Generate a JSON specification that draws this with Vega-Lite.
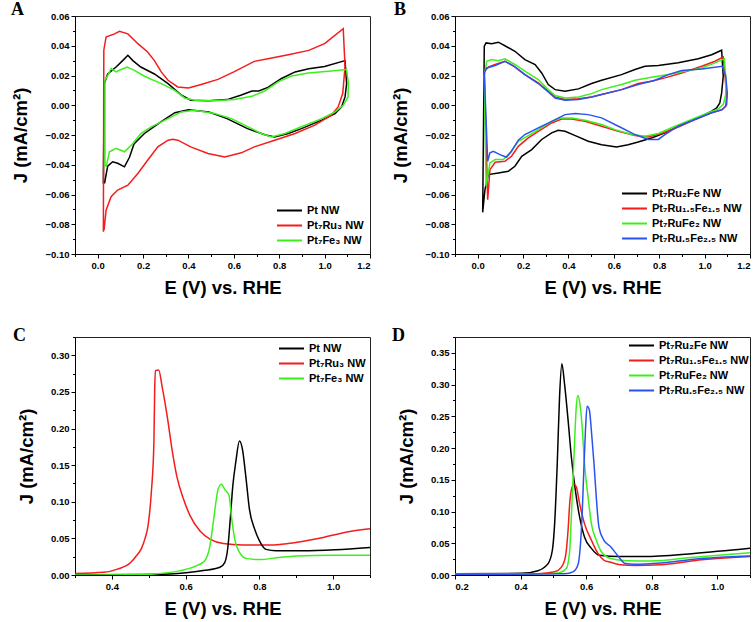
{
"$schema":"https://vega.github.io/schema/vega-lite/v6.json",
"background":"white",
"padding":{"left":10,"top":0,"right":4,"bottom":2},
"bounds":"flush",
"columns":2,
"spacing":{"column":85,"row":83},
"resolve":{"scale":{"color":"independent"},"legend":{"color":"independent"}},
"config":{
"font":"Liberation Sans",
"view":{"stroke":"#222","strokeWidth":1},
"axis":{"domainColor":"#000","tickColor":"#000","labelColor":"#000","titleColor":"#000","labelFont":"Liberation Sans","labelFontWeight":"bold","labelFontSize":9.5,"titleFont":"Liberation Sans","titleFontWeight":"bold","titleFontSize":18.5,"grid":false,"labelPadding":2},
"axisX":{"titlePadding":9},
"axisY":{"titlePadding":14},
"legend":{"labelFont":"Liberation Sans","labelFontWeight":"bold","labelFontSize":11,"labelColor":"#000","symbolType":"stroke","symbolSize":625,"symbolStrokeWidth":2,"rowPadding":0,"clipHeight":15,"labelOffset":4,"padding":0,"labelLimit":200},
"title":{"font":"Liberation Serif","fontWeight":"bold","fontSize":18,"anchor":"start","frame":"group","color":"#000","offset":-8}
},
"datasets":{
"A":[
{"s":"Pt NW","i":1,"x":0.025,"y":-0.0526},{"s":"Pt NW","i":2,"x":0.029,"y":0.0145},{"s":"Pt NW","i":3,"x":0.044,"y":0.021},{"s":"Pt NW","i":4,"x":0.081,"y":0.0257},{"s":"Pt NW","i":5,"x":0.11,"y":0.03},{"s":"Pt NW","i":6,"x":0.133,"y":0.0336},{"s":"Pt NW","i":7,"x":0.155,"y":0.03},{"s":"Pt NW","i":8,"x":0.19,"y":0.0257},{"s":"Pt NW","i":9,"x":0.25,"y":0.021},{"s":"Pt NW","i":10,"x":0.31,"y":0.0145},{"s":"Pt NW","i":11,"x":0.37,"y":0.0067},{"s":"Pt NW","i":12,"x":0.41,"y":0.0034},{"s":"Pt NW","i":13,"x":0.49,"y":0.003},{"s":"Pt NW","i":14,"x":0.57,"y":0.0038},{"s":"Pt NW","i":15,"x":0.63,"y":0.0067},{"s":"Pt NW","i":16,"x":0.68,"y":0.0096},{"s":"Pt NW","i":17,"x":0.71,"y":0.0096},{"s":"Pt NW","i":18,"x":0.75,"y":0.012},{"s":"Pt NW","i":19,"x":0.81,"y":0.018},{"s":"Pt NW","i":20,"x":0.87,"y":0.0224},{"s":"Pt NW","i":21,"x":0.93,"y":0.0246},{"s":"Pt NW","i":22,"x":1.0,"y":0.026},{"s":"Pt NW","i":23,"x":1.09,"y":0.03},{"s":"Pt NW","i":24,"x":1.097,"y":0.0145},{"s":"Pt NW","i":25,"x":1.09,"y":0.0056},{"s":"Pt NW","i":26,"x":1.075,"y":-0.001},{"s":"Pt NW","i":27,"x":1.046,"y":-0.0056},{"s":"Pt NW","i":28,"x":0.987,"y":-0.01},{"s":"Pt NW","i":29,"x":0.898,"y":-0.0157},{"s":"Pt NW","i":30,"x":0.84,"y":-0.019},{"s":"Pt NW","i":31,"x":0.78,"y":-0.0213},{"s":"Pt NW","i":32,"x":0.74,"y":-0.02},{"s":"Pt NW","i":33,"x":0.66,"y":-0.0157},{"s":"Pt NW","i":34,"x":0.57,"y":-0.009},{"s":"Pt NW","i":35,"x":0.49,"y":-0.0045},{"s":"Pt NW","i":36,"x":0.4,"y":-0.003},{"s":"Pt NW","i":37,"x":0.34,"y":-0.005},{"s":"Pt NW","i":38,"x":0.28,"y":-0.011},{"s":"Pt NW","i":39,"x":0.206,"y":-0.019},{"s":"Pt NW","i":40,"x":0.16,"y":-0.026},{"s":"Pt NW","i":41,"x":0.14,"y":-0.035},{"s":"Pt NW","i":42,"x":0.118,"y":-0.0414},{"s":"Pt NW","i":43,"x":0.088,"y":-0.039},{"s":"Pt NW","i":44,"x":0.066,"y":-0.038},{"s":"Pt NW","i":45,"x":0.044,"y":-0.041},{"s":"Pt NW","i":46,"x":0.03,"y":-0.0526},
{"s":"Pt₇Ru₃ NW","i":1,"x":0.025,"y":-0.085},{"s":"Pt₇Ru₃ NW","i":2,"x":0.027,"y":0.037},{"s":"Pt₇Ru₃ NW","i":3,"x":0.037,"y":0.0459},{"s":"Pt₇Ru₃ NW","i":4,"x":0.074,"y":0.048},{"s":"Pt₇Ru₃ NW","i":5,"x":0.096,"y":0.0497},{"s":"Pt₇Ru₃ NW","i":6,"x":0.133,"y":0.048},{"s":"Pt₇Ru₃ NW","i":7,"x":0.177,"y":0.0414},{"s":"Pt₇Ru₃ NW","i":8,"x":0.22,"y":0.0358},{"s":"Pt₇Ru₃ NW","i":9,"x":0.25,"y":0.03},{"s":"Pt₇Ru₃ NW","i":10,"x":0.28,"y":0.0224},{"s":"Pt₇Ru₃ NW","i":11,"x":0.31,"y":0.0168},{"s":"Pt₇Ru₃ NW","i":12,"x":0.353,"y":0.0123},{"s":"Pt₇Ru₃ NW","i":13,"x":0.4,"y":0.0116},{"s":"Pt₇Ru₃ NW","i":14,"x":0.456,"y":0.014},{"s":"Pt₇Ru₃ NW","i":15,"x":0.53,"y":0.0174},{"s":"Pt₇Ru₃ NW","i":16,"x":0.6,"y":0.0224},{"s":"Pt₇Ru₃ NW","i":17,"x":0.69,"y":0.0295},{"s":"Pt₇Ru₃ NW","i":18,"x":0.75,"y":0.0313},{"s":"Pt₇Ru₃ NW","i":19,"x":0.84,"y":0.034},{"s":"Pt₇Ru₃ NW","i":20,"x":0.93,"y":0.0369},{"s":"Pt₇Ru₃ NW","i":21,"x":1.0,"y":0.0414},{"s":"Pt₇Ru₃ NW","i":22,"x":1.082,"y":0.0515},{"s":"Pt₇Ru₃ NW","i":23,"x":1.09,"y":0.026},{"s":"Pt₇Ru₃ NW","i":24,"x":1.08,"y":0.008},{"s":"Pt₇Ru₃ NW","i":25,"x":1.06,"y":-0.001},{"s":"Pt₇Ru₃ NW","i":26,"x":1.03,"y":-0.0067},{"s":"Pt₇Ru₃ NW","i":27,"x":0.957,"y":-0.0134},{"s":"Pt₇Ru₃ NW","i":28,"x":0.87,"y":-0.019},{"s":"Pt₇Ru₃ NW","i":29,"x":0.78,"y":-0.0235},{"s":"Pt₇Ru₃ NW","i":30,"x":0.69,"y":-0.028},{"s":"Pt₇Ru₃ NW","i":31,"x":0.633,"y":-0.032},{"s":"Pt₇Ru₃ NW","i":32,"x":0.56,"y":-0.0347},{"s":"Pt₇Ru₃ NW","i":33,"x":0.486,"y":-0.0324},{"s":"Pt₇Ru₃ NW","i":34,"x":0.41,"y":-0.028},{"s":"Pt₇Ru₃ NW","i":35,"x":0.353,"y":-0.0235},{"s":"Pt₇Ru₃ NW","i":36,"x":0.33,"y":-0.0228},{"s":"Pt₇Ru₃ NW","i":37,"x":0.31,"y":-0.0235},{"s":"Pt₇Ru₃ NW","i":38,"x":0.265,"y":-0.028},{"s":"Pt₇Ru₃ NW","i":39,"x":0.22,"y":-0.037},{"s":"Pt₇Ru₃ NW","i":40,"x":0.177,"y":-0.0459},{"s":"Pt₇Ru₃ NW","i":41,"x":0.133,"y":-0.0537},{"s":"Pt₇Ru₃ NW","i":42,"x":0.088,"y":-0.057},{"s":"Pt₇Ru₃ NW","i":43,"x":0.059,"y":-0.0615},{"s":"Pt₇Ru₃ NW","i":44,"x":0.037,"y":-0.0705},{"s":"Pt₇Ru₃ NW","i":45,"x":0.028,"y":-0.084},
{"s":"Pt₇Fe₃ NW","i":1,"x":0.032,"y":-0.041},{"s":"Pt₇Fe₃ NW","i":2,"x":0.032,"y":0.0168},{"s":"Pt₇Fe₃ NW","i":3,"x":0.044,"y":0.02},{"s":"Pt₇Fe₃ NW","i":4,"x":0.059,"y":0.0246},{"s":"Pt₇Fe₃ NW","i":5,"x":0.081,"y":0.0224},{"s":"Pt₇Fe₃ NW","i":6,"x":0.103,"y":0.024},{"s":"Pt₇Fe₃ NW","i":7,"x":0.13,"y":0.0257},{"s":"Pt₇Fe₃ NW","i":8,"x":0.162,"y":0.0235},{"s":"Pt₇Fe₃ NW","i":9,"x":0.206,"y":0.0195},{"s":"Pt₇Fe₃ NW","i":10,"x":0.28,"y":0.0145},{"s":"Pt₇Fe₃ NW","i":11,"x":0.34,"y":0.01},{"s":"Pt₇Fe₃ NW","i":12,"x":0.383,"y":0.0049},{"s":"Pt₇Fe₃ NW","i":13,"x":0.427,"y":0.0034},{"s":"Pt₇Fe₃ NW","i":14,"x":0.515,"y":0.003},{"s":"Pt₇Fe₃ NW","i":15,"x":0.6,"y":0.0038},{"s":"Pt₇Fe₃ NW","i":16,"x":0.68,"y":0.006},{"s":"Pt₇Fe₃ NW","i":17,"x":0.736,"y":0.0096},{"s":"Pt₇Fe₃ NW","i":18,"x":0.795,"y":0.0157},{"s":"Pt₇Fe₃ NW","i":19,"x":0.854,"y":0.0197},{"s":"Pt₇Fe₃ NW","i":20,"x":0.928,"y":0.0217},{"s":"Pt₇Fe₃ NW","i":21,"x":1.016,"y":0.0228},{"s":"Pt₇Fe₃ NW","i":22,"x":1.097,"y":0.024},{"s":"Pt₇Fe₃ NW","i":23,"x":1.105,"y":0.0145},{"s":"Pt₇Fe₃ NW","i":24,"x":1.103,"y":0.0056},{"s":"Pt₇Fe₃ NW","i":25,"x":1.082,"y":0.0},{"s":"Pt₇Fe₃ NW","i":26,"x":1.046,"y":-0.0045},{"s":"Pt₇Fe₃ NW","i":27,"x":0.987,"y":-0.009},{"s":"Pt₇Fe₃ NW","i":28,"x":0.898,"y":-0.0145},{"s":"Pt₇Fe₃ NW","i":29,"x":0.825,"y":-0.019},{"s":"Pt₇Fe₃ NW","i":30,"x":0.766,"y":-0.0213},{"s":"Pt₇Fe₃ NW","i":31,"x":0.72,"y":-0.019},{"s":"Pt₇Fe₃ NW","i":32,"x":0.663,"y":-0.0145},{"s":"Pt₇Fe₃ NW","i":33,"x":0.59,"y":-0.009},{"s":"Pt₇Fe₃ NW","i":34,"x":0.515,"y":-0.0056},{"s":"Pt₇Fe₃ NW","i":35,"x":0.427,"y":-0.0034},{"s":"Pt₇Fe₃ NW","i":36,"x":0.368,"y":-0.0045},{"s":"Pt₇Fe₃ NW","i":37,"x":0.31,"y":-0.009},{"s":"Pt₇Fe₃ NW","i":38,"x":0.236,"y":-0.0145},{"s":"Pt₇Fe₃ NW","i":39,"x":0.19,"y":-0.019},{"s":"Pt₇Fe₃ NW","i":40,"x":0.155,"y":-0.0257},{"s":"Pt₇Fe₃ NW","i":41,"x":0.118,"y":-0.0313},{"s":"Pt₇Fe₃ NW","i":42,"x":0.081,"y":-0.029},{"s":"Pt₇Fe₃ NW","i":43,"x":0.052,"y":-0.0313},{"s":"Pt₇Fe₃ NW","i":44,"x":0.037,"y":-0.0414}
],
"B":[
{"s":"Pt₇Ru₂Fe NW","i":1,"x":0.022,"y":-0.072},{"s":"Pt₇Ru₂Fe NW","i":2,"x":0.029,"y":0.0397},{"s":"Pt₇Ru₂Fe NW","i":3,"x":0.037,"y":0.0419},{"s":"Pt₇Ru₂Fe NW","i":4,"x":0.062,"y":0.0413},{"s":"Pt₇Ru₂Fe NW","i":5,"x":0.091,"y":0.0424},{"s":"Pt₇Ru₂Fe NW","i":6,"x":0.12,"y":0.04},{"s":"Pt₇Ru₂Fe NW","i":7,"x":0.164,"y":0.0363},{"s":"Pt₇Ru₂Fe NW","i":8,"x":0.208,"y":0.0307},{"s":"Pt₇Ru₂Fe NW","i":9,"x":0.253,"y":0.0274},{"s":"Pt₇Ru₂Fe NW","i":10,"x":0.282,"y":0.0217},{"s":"Pt₇Ru₂Fe NW","i":11,"x":0.311,"y":0.0139},{"s":"Pt₇Ru₂Fe NW","i":12,"x":0.341,"y":0.0105},{"s":"Pt₇Ru₂Fe NW","i":13,"x":0.385,"y":0.0094},{"s":"Pt₇Ru₂Fe NW","i":14,"x":0.444,"y":0.011},{"s":"Pt₇Ru₂Fe NW","i":15,"x":0.502,"y":0.0146},{"s":"Pt₇Ru₂Fe NW","i":16,"x":0.546,"y":0.0168},{"s":"Pt₇Ru₂Fe NW","i":17,"x":0.634,"y":0.0206},{"s":"Pt₇Ru₂Fe NW","i":18,"x":0.693,"y":0.024},{"s":"Pt₇Ru₂Fe NW","i":19,"x":0.737,"y":0.0262},{"s":"Pt₇Ru₂Fe NW","i":20,"x":0.796,"y":0.0267},{"s":"Pt₇Ru₂Fe NW","i":21,"x":0.884,"y":0.0285},{"s":"Pt₇Ru₂Fe NW","i":22,"x":0.972,"y":0.0312},{"s":"Pt₇Ru₂Fe NW","i":23,"x":1.031,"y":0.034},{"s":"Pt₇Ru₂Fe NW","i":24,"x":1.075,"y":0.037},{"s":"Pt₇Ru₂Fe NW","i":25,"x":1.082,"y":0.0195},{"s":"Pt₇Ru₂Fe NW","i":26,"x":1.075,"y":0.0083},{"s":"Pt₇Ru₂Fe NW","i":27,"x":1.067,"y":0.0016},{"s":"Pt₇Ru₂Fe NW","i":28,"x":1.053,"y":-0.0018},{"s":"Pt₇Ru₂Fe NW","i":29,"x":1.031,"y":-0.004},{"s":"Pt₇Ru₂Fe NW","i":30,"x":0.972,"y":-0.0085},{"s":"Pt₇Ru₂Fe NW","i":31,"x":0.899,"y":-0.013},{"s":"Pt₇Ru₂Fe NW","i":32,"x":0.825,"y":-0.0186},{"s":"Pt₇Ru₂Fe NW","i":33,"x":0.766,"y":-0.022},{"s":"Pt₇Ru₂Fe NW","i":34,"x":0.707,"y":-0.0247},{"s":"Pt₇Ru₂Fe NW","i":35,"x":0.663,"y":-0.0265},{"s":"Pt₇Ru₂Fe NW","i":36,"x":0.612,"y":-0.028},{"s":"Pt₇Ru₂Fe NW","i":37,"x":0.546,"y":-0.0265},{"s":"Pt₇Ru₂Fe NW","i":38,"x":0.487,"y":-0.0242},{"s":"Pt₇Ru₂Fe NW","i":39,"x":0.43,"y":-0.0204},{"s":"Pt₇Ru₂Fe NW","i":40,"x":0.385,"y":-0.0175},{"s":"Pt₇Ru₂Fe NW","i":41,"x":0.355,"y":-0.0168},{"s":"Pt₇Ru₂Fe NW","i":42,"x":0.326,"y":-0.0186},{"s":"Pt₇Ru₂Fe NW","i":43,"x":0.282,"y":-0.023},{"s":"Pt₇Ru₂Fe NW","i":44,"x":0.238,"y":-0.0298},{"s":"Pt₇Ru₂Fe NW","i":45,"x":0.194,"y":-0.0343},{"s":"Pt₇Ru₂Fe NW","i":46,"x":0.164,"y":-0.041},{"s":"Pt₇Ru₂Fe NW","i":47,"x":0.135,"y":-0.0444},{"s":"Pt₇Ru₂Fe NW","i":48,"x":0.091,"y":-0.0455},{"s":"Pt₇Ru₂Fe NW","i":49,"x":0.047,"y":-0.0466},{"s":"Pt₇Ru₂Fe NW","i":50,"x":0.032,"y":-0.0567},{"s":"Pt₇Ru₂Fe NW","i":51,"x":0.022,"y":-0.072},
{"s":"Pt₇Ru₁.₅Fe₁.₅ NW","i":1,"x":0.044,"y":-0.0635},{"s":"Pt₇Ru₁.₅Fe₁.₅ NW","i":2,"x":0.029,"y":0.0229},{"s":"Pt₇Ru₁.₅Fe₁.₅ NW","i":3,"x":0.048,"y":0.0258},{"s":"Pt₇Ru₁.₅Fe₁.₅ NW","i":4,"x":0.077,"y":0.0274},{"s":"Pt₇Ru₁.₅Fe₁.₅ NW","i":5,"x":0.12,"y":0.0296},{"s":"Pt₇Ru₁.₅Fe₁.₅ NW","i":6,"x":0.164,"y":0.0258},{"s":"Pt₇Ru₁.₅Fe₁.₅ NW","i":7,"x":0.208,"y":0.0206},{"s":"Pt₇Ru₁.₅Fe₁.₅ NW","i":8,"x":0.267,"y":0.015},{"s":"Pt₇Ru₁.₅Fe₁.₅ NW","i":9,"x":0.311,"y":0.0094},{"s":"Pt₇Ru₁.₅Fe₁.₅ NW","i":10,"x":0.341,"y":0.0056},{"s":"Pt₇Ru₁.₅Fe₁.₅ NW","i":11,"x":0.385,"y":0.0038},{"s":"Pt₇Ru₁.₅Fe₁.₅ NW","i":12,"x":0.444,"y":0.0043},{"s":"Pt₇Ru₁.₅Fe₁.₅ NW","i":13,"x":0.502,"y":0.0056},{"s":"Pt₇Ru₁.₅Fe₁.₅ NW","i":14,"x":0.546,"y":0.0072},{"s":"Pt₇Ru₁.₅Fe₁.₅ NW","i":15,"x":0.634,"y":0.0105},{"s":"Pt₇Ru₁.₅Fe₁.₅ NW","i":16,"x":0.707,"y":0.0146},{"s":"Pt₇Ru₁.₅Fe₁.₅ NW","i":17,"x":0.766,"y":0.0161},{"s":"Pt₇Ru₁.₅Fe₁.₅ NW","i":18,"x":0.825,"y":0.0184},{"s":"Pt₇Ru₁.₅Fe₁.₅ NW","i":19,"x":0.899,"y":0.0217},{"s":"Pt₇Ru₁.₅Fe₁.₅ NW","i":20,"x":0.987,"y":0.0262},{"s":"Pt₇Ru₁.₅Fe₁.₅ NW","i":21,"x":1.046,"y":0.0296},{"s":"Pt₇Ru₁.₅Fe₁.₅ NW","i":22,"x":1.082,"y":0.0325},{"s":"Pt₇Ru₁.₅Fe₁.₅ NW","i":23,"x":1.09,"y":0.0195},{"s":"Pt₇Ru₁.₅Fe₁.₅ NW","i":24,"x":1.097,"y":0.006},{"s":"Pt₇Ru₁.₅Fe₁.₅ NW","i":25,"x":1.093,"y":-0.0007},{"s":"Pt₇Ru₁.₅Fe₁.₅ NW","i":26,"x":1.075,"y":-0.003},{"s":"Pt₇Ru₁.₅Fe₁.₅ NW","i":27,"x":1.031,"y":-0.005},{"s":"Pt₇Ru₁.₅Fe₁.₅ NW","i":28,"x":0.957,"y":-0.0096},{"s":"Pt₇Ru₁.₅Fe₁.₅ NW","i":29,"x":0.884,"y":-0.0146},{"s":"Pt₇Ru₁.₅Fe₁.₅ NW","i":30,"x":0.81,"y":-0.019},{"s":"Pt₇Ru₁.₅Fe₁.₅ NW","i":31,"x":0.752,"y":-0.0213},{"s":"Pt₇Ru₁.₅Fe₁.₅ NW","i":32,"x":0.693,"y":-0.0204},{"s":"Pt₇Ru₁.₅Fe₁.₅ NW","i":33,"x":0.62,"y":-0.0175},{"s":"Pt₇Ru₁.₅Fe₁.₅ NW","i":34,"x":0.546,"y":-0.0141},{"s":"Pt₇Ru₁.₅Fe₁.₅ NW","i":35,"x":0.473,"y":-0.0108},{"s":"Pt₇Ru₁.₅Fe₁.₅ NW","i":36,"x":0.414,"y":-0.0092},{"s":"Pt₇Ru₁.₅Fe₁.₅ NW","i":37,"x":0.37,"y":-0.0092},{"s":"Pt₇Ru₁.₅Fe₁.₅ NW","i":38,"x":0.326,"y":-0.0119},{"s":"Pt₇Ru₁.₅Fe₁.₅ NW","i":39,"x":0.267,"y":-0.0175},{"s":"Pt₇Ru₁.₅Fe₁.₅ NW","i":40,"x":0.223,"y":-0.022},{"s":"Pt₇Ru₁.₅Fe₁.₅ NW","i":41,"x":0.179,"y":-0.0276},{"s":"Pt₇Ru₁.₅Fe₁.₅ NW","i":42,"x":0.149,"y":-0.0343},{"s":"Pt₇Ru₁.₅Fe₁.₅ NW","i":43,"x":0.12,"y":-0.0377},{"s":"Pt₇Ru₁.₅Fe₁.₅ NW","i":44,"x":0.077,"y":-0.0383},{"s":"Pt₇Ru₁.₅Fe₁.₅ NW","i":45,"x":0.054,"y":-0.0433},{"s":"Pt₇Ru₁.₅Fe₁.₅ NW","i":46,"x":0.044,"y":-0.0635},
{"s":"Pt₇RuFe₂ NW","i":1,"x":0.037,"y":-0.0545},{"s":"Pt₇RuFe₂ NW","i":2,"x":0.029,"y":0.0195},{"s":"Pt₇RuFe₂ NW","i":3,"x":0.04,"y":0.0296},{"s":"Pt₇RuFe₂ NW","i":4,"x":0.062,"y":0.0307},{"s":"Pt₇RuFe₂ NW","i":5,"x":0.091,"y":0.03},{"s":"Pt₇RuFe₂ NW","i":6,"x":0.12,"y":0.0312},{"s":"Pt₇RuFe₂ NW","i":7,"x":0.164,"y":0.0274},{"s":"Pt₇RuFe₂ NW","i":8,"x":0.208,"y":0.0229},{"s":"Pt₇RuFe₂ NW","i":9,"x":0.267,"y":0.0173},{"s":"Pt₇RuFe₂ NW","i":10,"x":0.311,"y":0.0105},{"s":"Pt₇RuFe₂ NW","i":11,"x":0.341,"y":0.0065},{"s":"Pt₇RuFe₂ NW","i":12,"x":0.385,"y":0.0049},{"s":"Pt₇RuFe₂ NW","i":13,"x":0.444,"y":0.0056},{"s":"Pt₇RuFe₂ NW","i":14,"x":0.502,"y":0.0078},{"s":"Pt₇RuFe₂ NW","i":15,"x":0.546,"y":0.0105},{"s":"Pt₇RuFe₂ NW","i":16,"x":0.634,"y":0.0139},{"s":"Pt₇RuFe₂ NW","i":17,"x":0.693,"y":0.0168},{"s":"Pt₇RuFe₂ NW","i":18,"x":0.766,"y":0.0188},{"s":"Pt₇RuFe₂ NW","i":19,"x":0.84,"y":0.0206},{"s":"Pt₇RuFe₂ NW","i":20,"x":0.913,"y":0.0229},{"s":"Pt₇RuFe₂ NW","i":21,"x":0.987,"y":0.0251},{"s":"Pt₇RuFe₂ NW","i":22,"x":1.046,"y":0.0285},{"s":"Pt₇RuFe₂ NW","i":23,"x":1.087,"y":0.0312},{"s":"Pt₇RuFe₂ NW","i":24,"x":1.093,"y":0.0195},{"s":"Pt₇RuFe₂ NW","i":25,"x":1.093,"y":0.0072},{"s":"Pt₇RuFe₂ NW","i":26,"x":1.082,"y":0.0004},{"s":"Pt₇RuFe₂ NW","i":27,"x":1.06,"y":-0.0025},{"s":"Pt₇RuFe₂ NW","i":28,"x":1.016,"y":-0.005},{"s":"Pt₇RuFe₂ NW","i":29,"x":0.943,"y":-0.0096},{"s":"Pt₇RuFe₂ NW","i":30,"x":0.87,"y":-0.0141},{"s":"Pt₇RuFe₂ NW","i":31,"x":0.796,"y":-0.019},{"s":"Pt₇RuFe₂ NW","i":32,"x":0.737,"y":-0.0208},{"s":"Pt₇RuFe₂ NW","i":33,"x":0.678,"y":-0.0197},{"s":"Pt₇RuFe₂ NW","i":34,"x":0.605,"y":-0.0164},{"s":"Pt₇RuFe₂ NW","i":35,"x":0.546,"y":-0.013},{"s":"Pt₇RuFe₂ NW","i":36,"x":0.473,"y":-0.0101},{"s":"Pt₇RuFe₂ NW","i":37,"x":0.414,"y":-0.0085},{"s":"Pt₇RuFe₂ NW","i":38,"x":0.37,"y":-0.0085},{"s":"Pt₇RuFe₂ NW","i":39,"x":0.326,"y":-0.0108},{"s":"Pt₇RuFe₂ NW","i":40,"x":0.267,"y":-0.0164},{"s":"Pt₇RuFe₂ NW","i":41,"x":0.223,"y":-0.0204},{"s":"Pt₇RuFe₂ NW","i":42,"x":0.179,"y":-0.0242},{"s":"Pt₇RuFe₂ NW","i":43,"x":0.142,"y":-0.032},{"s":"Pt₇RuFe₂ NW","i":44,"x":0.113,"y":-0.0365},{"s":"Pt₇RuFe₂ NW","i":45,"x":0.077,"y":-0.0365},{"s":"Pt₇RuFe₂ NW","i":46,"x":0.054,"y":-0.0388},{"s":"Pt₇RuFe₂ NW","i":47,"x":0.037,"y":-0.0545},
{"s":"Pt₇Ru.₅Fe₂.₅ NW","i":1,"x":0.044,"y":-0.0377},{"s":"Pt₇Ru.₅Fe₂.₅ NW","i":2,"x":0.029,"y":0.0217},{"s":"Pt₇Ru.₅Fe₂.₅ NW","i":3,"x":0.04,"y":0.0251},{"s":"Pt₇Ru.₅Fe₂.₅ NW","i":4,"x":0.077,"y":0.0267},{"s":"Pt₇Ru.₅Fe₂.₅ NW","i":5,"x":0.12,"y":0.0296},{"s":"Pt₇Ru.₅Fe₂.₅ NW","i":6,"x":0.164,"y":0.0258},{"s":"Pt₇Ru.₅Fe₂.₅ NW","i":7,"x":0.208,"y":0.0206},{"s":"Pt₇Ru.₅Fe₂.₅ NW","i":8,"x":0.267,"y":0.0146},{"s":"Pt₇Ru.₅Fe₂.₅ NW","i":9,"x":0.311,"y":0.009},{"s":"Pt₇Ru.₅Fe₂.₅ NW","i":10,"x":0.341,"y":0.0049},{"s":"Pt₇Ru.₅Fe₂.₅ NW","i":11,"x":0.385,"y":0.0034},{"s":"Pt₇Ru.₅Fe₂.₅ NW","i":12,"x":0.444,"y":0.0038},{"s":"Pt₇Ru.₅Fe₂.₅ NW","i":13,"x":0.502,"y":0.0056},{"s":"Pt₇Ru.₅Fe₂.₅ NW","i":14,"x":0.546,"y":0.0072},{"s":"Pt₇Ru.₅Fe₂.₅ NW","i":15,"x":0.634,"y":0.0105},{"s":"Pt₇Ru.₅Fe₂.₅ NW","i":16,"x":0.707,"y":0.0139},{"s":"Pt₇Ru.₅Fe₂.₅ NW","i":17,"x":0.781,"y":0.0168},{"s":"Pt₇Ru.₅Fe₂.₅ NW","i":18,"x":0.84,"y":0.0206},{"s":"Pt₇Ru.₅Fe₂.₅ NW","i":19,"x":0.899,"y":0.0233},{"s":"Pt₇Ru.₅Fe₂.₅ NW","i":20,"x":0.987,"y":0.0244},{"s":"Pt₇Ru.₅Fe₂.₅ NW","i":21,"x":1.078,"y":0.0262},{"s":"Pt₇Ru.₅Fe₂.₅ NW","i":22,"x":1.093,"y":0.0195},{"s":"Pt₇Ru.₅Fe₂.₅ NW","i":23,"x":1.1,"y":0.0083},{"s":"Pt₇Ru.₅Fe₂.₅ NW","i":24,"x":1.097,"y":0.0004},{"s":"Pt₇Ru.₅Fe₂.₅ NW","i":25,"x":1.078,"y":-0.003},{"s":"Pt₇Ru.₅Fe₂.₅ NW","i":26,"x":1.031,"y":-0.005},{"s":"Pt₇Ru.₅Fe₂.₅ NW","i":27,"x":0.957,"y":-0.0096},{"s":"Pt₇Ru.₅Fe₂.₅ NW","i":28,"x":0.884,"y":-0.0141},{"s":"Pt₇Ru.₅Fe₂.₅ NW","i":29,"x":0.825,"y":-0.0197},{"s":"Pt₇Ru.₅Fe₂.₅ NW","i":30,"x":0.796,"y":-0.023},{"s":"Pt₇Ru.₅Fe₂.₅ NW","i":31,"x":0.752,"y":-0.023},{"s":"Pt₇Ru.₅Fe₂.₅ NW","i":32,"x":0.693,"y":-0.0197},{"s":"Pt₇Ru.₅Fe₂.₅ NW","i":33,"x":0.62,"y":-0.0141},{"s":"Pt₇Ru.₅Fe₂.₅ NW","i":34,"x":0.546,"y":-0.0085},{"s":"Pt₇Ru.₅Fe₂.₅ NW","i":35,"x":0.487,"y":-0.0063},{"s":"Pt₇Ru.₅Fe₂.₅ NW","i":36,"x":0.43,"y":-0.0056},{"s":"Pt₇Ru.₅Fe₂.₅ NW","i":37,"x":0.385,"y":-0.0063},{"s":"Pt₇Ru.₅Fe₂.₅ NW","i":38,"x":0.326,"y":-0.0108},{"s":"Pt₇Ru.₅Fe₂.₅ NW","i":39,"x":0.267,"y":-0.0152},{"s":"Pt₇Ru.₅Fe₂.₅ NW","i":40,"x":0.208,"y":-0.0197},{"s":"Pt₇Ru.₅Fe₂.₅ NW","i":41,"x":0.179,"y":-0.0235},{"s":"Pt₇Ru.₅Fe₂.₅ NW","i":42,"x":0.149,"y":-0.0309},{"s":"Pt₇Ru.₅Fe₂.₅ NW","i":43,"x":0.127,"y":-0.035},{"s":"Pt₇Ru.₅Fe₂.₅ NW","i":44,"x":0.098,"y":-0.0332},{"s":"Pt₇Ru.₅Fe₂.₅ NW","i":45,"x":0.069,"y":-0.0309},{"s":"Pt₇Ru.₅Fe₂.₅ NW","i":46,"x":0.054,"y":-0.032},{"s":"Pt₇Ru.₅Fe₂.₅ NW","i":47,"x":0.044,"y":-0.0377}
],
"C":[
{"s":"Pt₇Ru₃ NW","i":1,"x":0.3,"y":0.002},{"s":"Pt₇Ru₃ NW","i":2,"x":0.379,"y":0.0036},{"s":"Pt₇Ru₃ NW","i":3,"x":0.415,"y":0.008},{"s":"Pt₇Ru₃ NW","i":4,"x":0.451,"y":0.017},{"s":"Pt₇Ru₃ NW","i":5,"x":0.466,"y":0.026},{"s":"Pt₇Ru₃ NW","i":6,"x":0.48,"y":0.036},{"s":"Pt₇Ru₃ NW","i":7,"x":0.49,"y":0.05},{"s":"Pt₇Ru₃ NW","i":8,"x":0.498,"y":0.067},{"s":"Pt₇Ru₃ NW","i":9,"x":0.507,"y":0.113},{"s":"Pt₇Ru₃ NW","i":10,"x":0.514,"y":0.181},{"s":"Pt₇Ru₃ NW","i":11,"x":0.516,"y":0.249},{"s":"Pt₇Ru₃ NW","i":12,"x":0.518,"y":0.279},{"s":"Pt₇Ru₃ NW","i":13,"x":0.527,"y":0.28},{"s":"Pt₇Ru₃ NW","i":14,"x":0.536,"y":0.258},{"s":"Pt₇Ru₃ NW","i":15,"x":0.55,"y":0.217},{"s":"Pt₇Ru₃ NW","i":16,"x":0.563,"y":0.172},{"s":"Pt₇Ru₃ NW","i":17,"x":0.576,"y":0.135},{"s":"Pt₇Ru₃ NW","i":18,"x":0.594,"y":0.104},{"s":"Pt₇Ru₃ NW","i":19,"x":0.612,"y":0.081},{"s":"Pt₇Ru₃ NW","i":20,"x":0.639,"y":0.06},{"s":"Pt₇Ru₃ NW","i":21,"x":0.666,"y":0.049},{"s":"Pt₇Ru₃ NW","i":22,"x":0.702,"y":0.043},{"s":"Pt₇Ru₃ NW","i":23,"x":0.755,"y":0.041},{"s":"Pt₇Ru₃ NW","i":24,"x":0.827,"y":0.041},{"s":"Pt₇Ru₃ NW","i":25,"x":0.899,"y":0.0445},{"s":"Pt₇Ru₃ NW","i":26,"x":0.97,"y":0.051},{"s":"Pt₇Ru₃ NW","i":27,"x":1.042,"y":0.059},{"s":"Pt₇Ru₃ NW","i":28,"x":1.1,"y":0.063},
{"s":"Pt NW","i":1,"x":0.3,"y":0.0},{"s":"Pt NW","i":2,"x":0.45,"y":0.0007},{"s":"Pt NW","i":3,"x":0.558,"y":0.0014},{"s":"Pt NW","i":4,"x":0.648,"y":0.006},{"s":"Pt NW","i":5,"x":0.693,"y":0.0105},{"s":"Pt NW","i":6,"x":0.706,"y":0.017},{"s":"Pt NW","i":7,"x":0.715,"y":0.04},{"s":"Pt NW","i":8,"x":0.721,"y":0.076},{"s":"Pt NW","i":9,"x":0.728,"y":0.122},{"s":"Pt NW","i":10,"x":0.736,"y":0.154},{"s":"Pt NW","i":11,"x":0.746,"y":0.183},{"s":"Pt NW","i":12,"x":0.754,"y":0.172},{"s":"Pt NW","i":13,"x":0.764,"y":0.131},{"s":"Pt NW","i":14,"x":0.773,"y":0.09},{"s":"Pt NW","i":15,"x":0.787,"y":0.063},{"s":"Pt NW","i":16,"x":0.8,"y":0.047},{"s":"Pt NW","i":17,"x":0.818,"y":0.035},{"s":"Pt NW","i":18,"x":0.845,"y":0.033},{"s":"Pt NW","i":19,"x":0.917,"y":0.033},{"s":"Pt NW","i":20,"x":1.006,"y":0.0345},{"s":"Pt NW","i":21,"x":1.1,"y":0.0377},
{"s":"Pt₇Fe₃ NW","i":1,"x":0.3,"y":0.0},{"s":"Pt₇Fe₃ NW","i":2,"x":0.45,"y":0.0005},{"s":"Pt₇Fe₃ NW","i":3,"x":0.514,"y":0.0014},{"s":"Pt₇Fe₃ NW","i":4,"x":0.585,"y":0.006},{"s":"Pt₇Fe₃ NW","i":5,"x":0.63,"y":0.0127},{"s":"Pt₇Fe₃ NW","i":6,"x":0.652,"y":0.0195},{"s":"Pt₇Fe₃ NW","i":7,"x":0.666,"y":0.04},{"s":"Pt₇Fe₃ NW","i":8,"x":0.675,"y":0.072},{"s":"Pt₇Fe₃ NW","i":9,"x":0.682,"y":0.099},{"s":"Pt₇Fe₃ NW","i":10,"x":0.688,"y":0.117},{"s":"Pt₇Fe₃ NW","i":11,"x":0.697,"y":0.124},{"s":"Pt₇Fe₃ NW","i":12,"x":0.706,"y":0.117},{"s":"Pt₇Fe₃ NW","i":13,"x":0.718,"y":0.108},{"s":"Pt₇Fe₃ NW","i":14,"x":0.724,"y":0.081},{"s":"Pt₇Fe₃ NW","i":15,"x":0.733,"y":0.049},{"s":"Pt₇Fe₃ NW","i":16,"x":0.746,"y":0.031},{"s":"Pt₇Fe₃ NW","i":17,"x":0.764,"y":0.0227},{"s":"Pt₇Fe₃ NW","i":18,"x":0.8,"y":0.021},{"s":"Pt₇Fe₃ NW","i":19,"x":0.854,"y":0.024},{"s":"Pt₇Fe₃ NW","i":20,"x":0.899,"y":0.026},{"s":"Pt₇Fe₃ NW","i":21,"x":1.0,"y":0.027},{"s":"Pt₇Fe₃ NW","i":22,"x":1.1,"y":0.027}
],
"D":[
{"s":"Pt₇Ru₂Fe NW","i":1,"x":0.2,"y":0.002},{"s":"Pt₇Ru₂Fe NW","i":2,"x":0.402,"y":0.0026},{"s":"Pt₇Ru₂Fe NW","i":3,"x":0.453,"y":0.0068},{"s":"Pt₇Ru₂Fe NW","i":4,"x":0.484,"y":0.018},{"s":"Pt₇Ru₂Fe NW","i":5,"x":0.497,"y":0.039},{"s":"Pt₇Ru₂Fe NW","i":6,"x":0.504,"y":0.081},{"s":"Pt₇Ru₂Fe NW","i":7,"x":0.512,"y":0.176},{"s":"Pt₇Ru₂Fe NW","i":8,"x":0.519,"y":0.281},{"s":"Pt₇Ru₂Fe NW","i":9,"x":0.526,"y":0.333},{"s":"Pt₇Ru₂Fe NW","i":10,"x":0.534,"y":0.302},{"s":"Pt₇Ru₂Fe NW","i":11,"x":0.545,"y":0.244},{"s":"Pt₇Ru₂Fe NW","i":12,"x":0.555,"y":0.186},{"s":"Pt₇Ru₂Fe NW","i":13,"x":0.567,"y":0.134},{"s":"Pt₇Ru₂Fe NW","i":14,"x":0.58,"y":0.092},{"s":"Pt₇Ru₂Fe NW","i":15,"x":0.595,"y":0.06},{"s":"Pt₇Ru₂Fe NW","i":16,"x":0.616,"y":0.042},{"s":"Pt₇Ru₂Fe NW","i":17,"x":0.641,"y":0.031},{"s":"Pt₇Ru₂Fe NW","i":18,"x":0.7,"y":0.029},{"s":"Pt₇Ru₂Fe NW","i":19,"x":0.776,"y":0.029},{"s":"Pt₇Ru₂Fe NW","i":20,"x":0.929,"y":0.034},{"s":"Pt₇Ru₂Fe NW","i":21,"x":1.1,"y":0.042},
{"s":"Pt₇Ru₁.₅Fe₁.₅ NW","i":1,"x":0.2,"y":0.001},{"s":"Pt₇Ru₁.₅Fe₁.₅ NW","i":2,"x":0.453,"y":0.002},{"s":"Pt₇Ru₁.₅Fe₁.₅ NW","i":3,"x":0.504,"y":0.005},{"s":"Pt₇Ru₁.₅Fe₁.₅ NW","i":4,"x":0.524,"y":0.012},{"s":"Pt₇Ru₁.₅Fe₁.₅ NW","i":5,"x":0.537,"y":0.029},{"s":"Pt₇Ru₁.₅Fe₁.₅ NW","i":6,"x":0.545,"y":0.071},{"s":"Pt₇Ru₁.₅Fe₁.₅ NW","i":7,"x":0.55,"y":0.113},{"s":"Pt₇Ru₁.₅Fe₁.₅ NW","i":8,"x":0.555,"y":0.134},{"s":"Pt₇Ru₁.₅Fe₁.₅ NW","i":9,"x":0.563,"y":0.143},{"s":"Pt₇Ru₁.₅Fe₁.₅ NW","i":10,"x":0.57,"y":0.139},{"s":"Pt₇Ru₁.₅Fe₁.₅ NW","i":11,"x":0.58,"y":0.113},{"s":"Pt₇Ru₁.₅Fe₁.₅ NW","i":12,"x":0.595,"y":0.081},{"s":"Pt₇Ru₁.₅Fe₁.₅ NW","i":13,"x":0.616,"y":0.055},{"s":"Pt₇Ru₁.₅Fe₁.₅ NW","i":14,"x":0.636,"y":0.034},{"s":"Pt₇Ru₁.₅Fe₁.₅ NW","i":15,"x":0.654,"y":0.0236},{"s":"Pt₇Ru₁.₅Fe₁.₅ NW","i":16,"x":0.675,"y":0.02},{"s":"Pt₇Ru₁.₅Fe₁.₅ NW","i":17,"x":0.705,"y":0.016},{"s":"Pt₇Ru₁.₅Fe₁.₅ NW","i":18,"x":0.75,"y":0.015},{"s":"Pt₇Ru₁.₅Fe₁.₅ NW","i":19,"x":0.827,"y":0.016},{"s":"Pt₇Ru₁.₅Fe₁.₅ NW","i":20,"x":0.929,"y":0.0226},{"s":"Pt₇Ru₁.₅Fe₁.₅ NW","i":21,"x":1.1,"y":0.029},
{"s":"Pt₇RuFe₂ NW","i":1,"x":0.2,"y":0.001},{"s":"Pt₇RuFe₂ NW","i":2,"x":0.48,"y":0.002},{"s":"Pt₇RuFe₂ NW","i":3,"x":0.519,"y":0.0037},{"s":"Pt₇RuFe₂ NW","i":4,"x":0.54,"y":0.0105},{"s":"Pt₇RuFe₂ NW","i":5,"x":0.55,"y":0.039},{"s":"Pt₇RuFe₂ NW","i":6,"x":0.555,"y":0.092},{"s":"Pt₇RuFe₂ NW","i":7,"x":0.56,"y":0.15},{"s":"Pt₇RuFe₂ NW","i":8,"x":0.565,"y":0.212},{"s":"Pt₇RuFe₂ NW","i":9,"x":0.57,"y":0.265},{"s":"Pt₇RuFe₂ NW","i":10,"x":0.575,"y":0.283},{"s":"Pt₇RuFe₂ NW","i":11,"x":0.581,"y":0.27},{"s":"Pt₇RuFe₂ NW","i":12,"x":0.588,"y":0.233},{"s":"Pt₇RuFe₂ NW","i":13,"x":0.595,"y":0.176},{"s":"Pt₇RuFe₂ NW","i":14,"x":0.606,"y":0.123},{"s":"Pt₇RuFe₂ NW","i":15,"x":0.616,"y":0.081},{"s":"Pt₇RuFe₂ NW","i":16,"x":0.631,"y":0.055},{"s":"Pt₇RuFe₂ NW","i":17,"x":0.646,"y":0.037},{"s":"Pt₇RuFe₂ NW","i":18,"x":0.675,"y":0.026},{"s":"Pt₇RuFe₂ NW","i":19,"x":0.725,"y":0.0226},{"s":"Pt₇RuFe₂ NW","i":20,"x":0.797,"y":0.022},{"s":"Pt₇RuFe₂ NW","i":21,"x":0.929,"y":0.028},{"s":"Pt₇RuFe₂ NW","i":22,"x":1.1,"y":0.035},
{"s":"Pt₇Ru.₅Fe₂.₅ NW","i":1,"x":0.2,"y":0.0005},{"s":"Pt₇Ru.₅Fe₂.₅ NW","i":2,"x":0.535,"y":0.002},{"s":"Pt₇Ru.₅Fe₂.₅ NW","i":3,"x":0.56,"y":0.005},{"s":"Pt₇Ru.₅Fe₂.₅ NW","i":4,"x":0.575,"y":0.0157},{"s":"Pt₇Ru.₅Fe₂.₅ NW","i":5,"x":0.583,"y":0.05},{"s":"Pt₇Ru.₅Fe₂.₅ NW","i":6,"x":0.588,"y":0.097},{"s":"Pt₇Ru.₅Fe₂.₅ NW","i":7,"x":0.593,"y":0.165},{"s":"Pt₇Ru.₅Fe₂.₅ NW","i":8,"x":0.598,"y":0.228},{"s":"Pt₇Ru.₅Fe₂.₅ NW","i":9,"x":0.603,"y":0.266},{"s":"Pt₇Ru.₅Fe₂.₅ NW","i":10,"x":0.61,"y":0.26},{"s":"Pt₇Ru.₅Fe₂.₅ NW","i":11,"x":0.616,"y":0.228},{"s":"Pt₇Ru.₅Fe₂.₅ NW","i":12,"x":0.624,"y":0.176},{"s":"Pt₇Ru.₅Fe₂.₅ NW","i":13,"x":0.631,"y":0.123},{"s":"Pt₇Ru.₅Fe₂.₅ NW","i":14,"x":0.639,"y":0.076},{"s":"Pt₇Ru.₅Fe₂.₅ NW","i":15,"x":0.654,"y":0.055},{"s":"Pt₇Ru.₅Fe₂.₅ NW","i":16,"x":0.675,"y":0.0446},{"s":"Pt₇Ru.₅Fe₂.₅ NW","i":17,"x":0.695,"y":0.0315},{"s":"Pt₇Ru.₅Fe₂.₅ NW","i":18,"x":0.72,"y":0.018},{"s":"Pt₇Ru.₅Fe₂.₅ NW","i":19,"x":0.746,"y":0.017},{"s":"Pt₇Ru.₅Fe₂.₅ NW","i":20,"x":0.827,"y":0.019},{"s":"Pt₇Ru.₅Fe₂.₅ NW","i":21,"x":0.929,"y":0.025},{"s":"Pt₇Ru.₅Fe₂.₅ NW","i":22,"x":1.1,"y":0.03}
]
},
"concat":[
{
"title":{"text":"A","dx":-64},
"width":295,"height":238,
"data":{"name":"A"},
"mark":{"type":"line","strokeWidth":1.5,"clip":true},
"encoding":{
"x":{"field":"x","type":"quantitative","scale":{"domain":[-0.1,1.2],"nice":false,"zero":false},"axis":{"title":"E (V) vs. RHE","values":[-0.1,0,0.1,0.2,0.3,0.4,0.5,0.6,0.7,0.8,0.9,1.0,1.1,1.2],"labelExpr":"round(datum.value*10)%2==0 ? format(datum.value,'.1f') : ''","tickSize":{"condition":{"test":"round(datum.value*10)%2==0","value":4},"value":2.5}}},
"y":{"field":"y","type":"quantitative","scale":{"domain":[-0.1,0.06],"nice":false,"zero":false},"axis":{"title":"J (mA/cm²)","values":[-0.1,-0.09,-0.08,-0.07,-0.06,-0.05,-0.04,-0.03,-0.02,-0.01,0,0.01,0.02,0.03,0.04,0.05,0.06],"labelExpr":"round(datum.value*100)%2==0 ? format(datum.value,'.2f') : ''","tickSize":{"condition":{"test":"round(datum.value*100)%2==0","value":4},"value":2.5}}},
"color":{"field":"s","type":"nominal","scale":{"domain":["Pt NW","Pt₇Ru₃ NW","Pt₇Fe₃ NW"],"range":["#000000","#f41c1c","#3cf01c"]},"legend":{"title":null,"orient":"bottom-right","offset":6}},
"order":{"field":"i","type":"quantitative"}
}
},
{
"title":{"text":"B","dx":-61},
"width":295,"height":238,
"data":{"name":"B"},
"mark":{"type":"line","strokeWidth":1.5,"clip":true},
"encoding":{
"x":{"field":"x","type":"quantitative","scale":{"domain":[-0.1,1.2],"nice":false,"zero":false},"axis":{"title":"E (V) vs. RHE","values":[-0.1,0,0.1,0.2,0.3,0.4,0.5,0.6,0.7,0.8,0.9,1.0,1.1,1.2],"labelExpr":"round(datum.value*10)%2==0 ? format(datum.value,'.1f') : ''","tickSize":{"condition":{"test":"round(datum.value*10)%2==0","value":4},"value":2.5}}},
"y":{"field":"y","type":"quantitative","scale":{"domain":[-0.1,0.06],"nice":false,"zero":false},"axis":{"title":"J (mA/cm²)","values":[-0.1,-0.09,-0.08,-0.07,-0.06,-0.05,-0.04,-0.03,-0.02,-0.01,0,0.01,0.02,0.03,0.04,0.05,0.06],"labelExpr":"round(datum.value*100)%2==0 ? format(datum.value,'.2f') : ''","tickSize":{"condition":{"test":"round(datum.value*100)%2==0","value":4},"value":2.5}}},
"color":{"field":"s","type":"nominal","scale":{"domain":["Pt₇Ru₂Fe NW","Pt₇Ru₁.₅Fe₁.₅ NW","Pt₇RuFe₂ NW","Pt₇Ru.₅Fe₂.₅ NW"],"range":["#000000","#f41c1c","#3cf01c","#2a52f0"]},"legend":{"title":null,"orient":"bottom-right","offset":8}},
"order":{"field":"i","type":"quantitative"}
}
},
{
"title":{"text":"C","dx":-62},
"width":295,"height":238,
"data":{"name":"C"},
"mark":{"type":"line","strokeWidth":1.5,"clip":true,"interpolate":"monotone"},
"encoding":{
"x":{"field":"x","type":"quantitative","scale":{"domain":[0.3,1.1],"nice":false,"zero":false},"axis":{"title":"E (V) vs. RHE","values":[0.3,0.4,0.5,0.6,0.7,0.8,0.9,1.0,1.1],"labelExpr":"round(datum.value*10)%2==0 ? format(datum.value,'.1f') : ''","tickSize":{"condition":{"test":"round(datum.value*10)%2==0","value":4},"value":2.5}}},
"y":{"field":"y","type":"quantitative","scale":{"domain":[0,0.325],"nice":false,"zero":false},"axis":{"title":"J (mA/cm²)","values":[0,0.025,0.05,0.075,0.1,0.125,0.15,0.175,0.2,0.225,0.25,0.275,0.3,0.325],"labelExpr":"round(datum.value*1000)%50==0 ? format(datum.value,'.2f') : ''","tickSize":{"condition":{"test":"round(datum.value*1000)%50==0","value":4},"value":2.5}}},
"color":{"field":"s","type":"nominal","scale":{"domain":["Pt NW","Pt₇Ru₃ NW","Pt₇Fe₃ NW"],"range":["#000000","#f41c1c","#3cf01c"]},"legend":{"title":null,"orient":"top-right","offset":4}},
"order":{"field":"i","type":"quantitative"}
}
},
{
"title":{"text":"D","dx":-63},
"width":295,"height":238,
"data":{"name":"D"},
"mark":{"type":"line","strokeWidth":1.5,"clip":true,"interpolate":"monotone"},
"encoding":{
"x":{"field":"x","type":"quantitative","scale":{"domain":[0.2,1.1],"nice":false,"zero":false},"axis":{"title":"E (V) vs. RHE","values":[0.2,0.3,0.4,0.5,0.6,0.7,0.8,0.9,1.0,1.1],"labelExpr":"round(datum.value*10)%2==0 ? format(datum.value,'.1f') : ''","tickSize":{"condition":{"test":"round(datum.value*10)%2==0","value":4},"value":2.5}}},
"y":{"field":"y","type":"quantitative","scale":{"domain":[0,0.375],"nice":false,"zero":false},"axis":{"title":"J (mA/cm²)","values":[0,0.025,0.05,0.075,0.1,0.125,0.15,0.175,0.2,0.225,0.25,0.275,0.3,0.325,0.35,0.375],"labelExpr":"round(datum.value*1000)%50==0 ? format(datum.value,'.2f') : ''","tickSize":{"condition":{"test":"round(datum.value*1000)%50==0","value":4},"value":2.5}}},
"color":{"field":"s","type":"nominal","scale":{"domain":["Pt₇Ru₂Fe NW","Pt₇Ru₁.₅Fe₁.₅ NW","Pt₇RuFe₂ NW","Pt₇Ru.₅Fe₂.₅ NW"],"range":["#000000","#f41c1c","#3cf01c","#2a52f0"]},"legend":{"title":null,"orient":"top-right","offset":1}},
"order":{"field":"i","type":"quantitative"}
}
}
]
}
